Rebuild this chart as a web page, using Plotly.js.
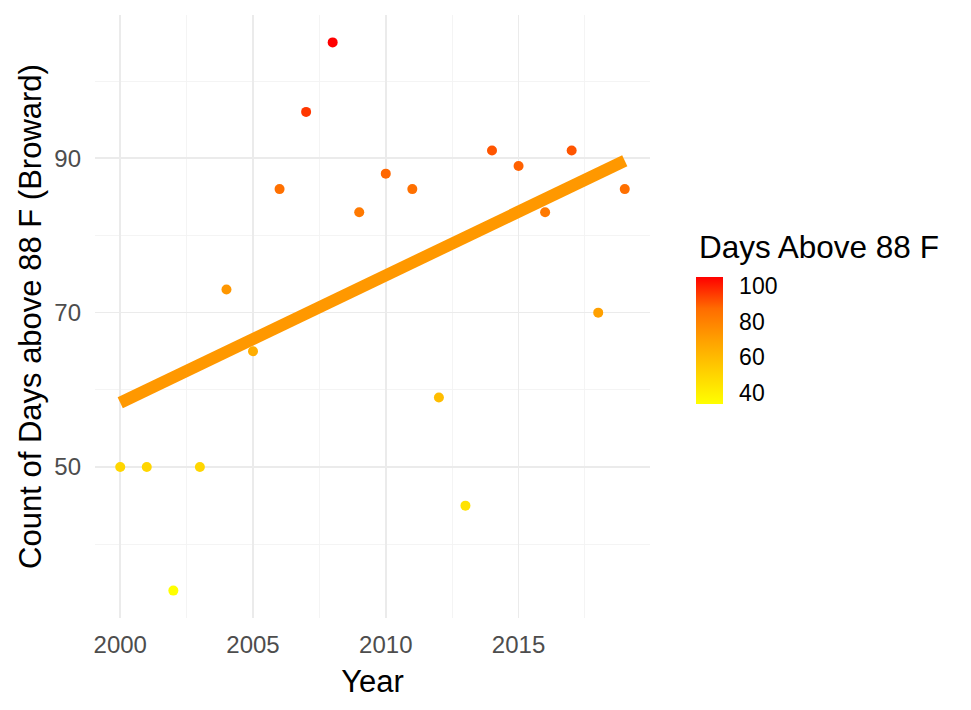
<!DOCTYPE html>
<html>
<head>
<meta charset="utf-8">
<script src="https://cdn.plot.ly/plotly-3.0.1.min.js"></script>
<style>
  html, body { margin: 0; padding: 0; background: #ffffff; }
  #chart { width: 971px; height: 710px; }
</style>
</head>
<body>
<div id="chart"></div>
<script>
// Annual count of days above 88 F, Broward County
const years = [2000, 2001, 2002, 2003, 2004, 2005, 2006, 2007, 2008, 2009,
               2010, 2011, 2012, 2013, 2014, 2015, 2016, 2017, 2018, 2019];
const daysAbove = [50, 50, 34, 50, 73, 65, 86, 96, 105, 83,
                   88, 86, 59, 45, 91, 89, 83, 91, 70, 86];
const xTickVals = [2000, 2005, 2010, 2015];
const yTickVals = [50, 70, 90];
const legendTickVals = [40, 60, 80, 100];

// Ordinary least-squares trend line through the yearly counts
function linearFit(xs, ys) {
  const n = xs.length;
  const mx = xs.reduce((a, b) => a + b, 0) / n;
  const my = ys.reduce((a, b) => a + b, 0) / n;
  let sxy = 0, sxx = 0;
  for (let i = 0; i < n; i++) {
    sxy += (xs[i] - mx) * (ys[i] - my);
    sxx += (xs[i] - mx) * (xs[i] - mx);
  }
  const slope = sxy / sxx;
  return x => my + slope * (x - mx);
}
const fit = linearFit(years, daysAbove);
const fitX = [Math.min(...years), Math.max(...years)];
const fitY = fitX.map(fit);

const cMin = Math.min(...daysAbove);
const cMax = Math.max(...daysAbove);

// yellow -> red gradient interpolated in Lab space
const heatScale = [
  [0.00, 'rgb(255,255,0)'],
  [0.25, 'rgb(255,209,0)'],
  [0.50, 'rgb(255,161,0)'],
  [0.75, 'rgb(255,108,0)'],
  [1.00, 'rgb(255,0,0)']
];

const FONT = 'Liberation Sans, Arial, sans-serif';

// plot box and colour bar geometry (pixels)
const W = 971, H = 710;
const M = { l: 95, r: 321, t: 15, b: 92 };
const plotW = W - M.l - M.r, plotH = H - M.t - M.b;
const barLeftPx = 696, barThick = 27, barLenPx = 127, barMidPx = 340.4;
const barX = (barLeftPx - M.l) / plotW;
const barY = (H - M.b - barMidPx) / plotH;

// white guide ticks drawn across both edges of the colour bar
function barValueToPaperY(v) {
  const px = barMidPx + barLenPx / 2 - (v - cMin) / (cMax - cMin) * barLenPx;
  return (H - M.b - px) / plotH;
}
const tickLen = 5;
const barTickShapes = [];
legendTickVals.forEach(v => {
  const yp = barValueToPaperY(v);
  [[barLeftPx, barLeftPx + tickLen], [barLeftPx + barThick - tickLen, barLeftPx + barThick]].forEach(([a, b]) => {
    barTickShapes.push({
      type: 'line', xref: 'paper', yref: 'paper',
      x0: (a - M.l) / plotW, x1: (b - M.l) / plotW, y0: yp, y1: yp,
      line: { color: 'rgba(255,255,255,0.85)', width: 1.2 }
    });
  });
});

const points = {
  type: 'scatter',
  mode: 'markers',
  x: years,
  y: daysAbove,
  marker: {
    size: 10,
    color: daysAbove,
    cmin: cMin,
    cmax: cMax,
    colorscale: heatScale,
    line: { width: 0 },
    showscale: true,
    colorbar: {
      x: barX,
      xanchor: 'left',
      y: barY,
      yanchor: 'middle',
      len: barLenPx,
      lenmode: 'pixels',
      thickness: barThick,
      thicknessmode: 'pixels',
      outlinewidth: 0,
      xpad: 0,
      ypad: 0,
      tickmode: 'array',
      tickvals: legendTickVals,
      ticks: 'outside',
      ticklen: 12,
      tickcolor: 'rgba(255,255,255,0)',
      tickwidth: 1,
      tickfont: { family: FONT, size: 23, color: '#000000' },
      title: { text: '' }
    }
  },
  hoverinfo: 'x+y',
  showlegend: false
};

const trend = {
  type: 'scatter',
  mode: 'lines',
  x: fitX,
  y: fitY,
  line: { color: '#FF9800', width: 12 },
  hoverinfo: 'skip',
  showlegend: false
};

const layout = {
  width: W,
  height: H,
  margin: M,
  paper_bgcolor: '#ffffff',
  plot_bgcolor: '#ffffff',
  font: { family: FONT, color: '#4D4D4D' },
  xaxis: {
    range: [1999.05, 2019.95],
    tickmode: 'array',
    tickvals: xTickVals,
    ticks: '',
    ticklabelstandoff: 10,
    showline: false,
    zeroline: false,
    showgrid: true,
    gridcolor: '#EBEBEB',
    gridwidth: 1.6,
    minor: { dtick: 2.5, tick0: 2000, showgrid: true, gridcolor: '#F3F3F3', gridwidth: 0.9 },
    tickfont: { family: FONT, size: 24, color: '#4D4D4D' },
    title: { text: 'Year', font: { family: FONT, size: 31, color: '#000000' }, standoff: 13 },
    automargin: false
  },
  yaxis: {
    range: [30.45, 108.55],
    tickmode: 'array',
    tickvals: yTickVals,
    ticks: '',
    ticklabelstandoff: 13,
    showline: false,
    zeroline: false,
    showgrid: true,
    gridcolor: '#EBEBEB',
    gridwidth: 1.6,
    minor: { dtick: 10, tick0: 40, showgrid: true, gridcolor: '#F3F3F3', gridwidth: 0.9 },
    tickfont: { family: FONT, size: 24, color: '#4D4D4D' },
    title: { text: 'Count of Days above 88 F (Broward)', font: { family: FONT, size: 31, color: '#000000' }, standoff: 3 },
    automargin: false
  },
  shapes: barTickShapes,
  annotations: [{
    text: 'Days Above 88 F',
    xref: 'paper', yref: 'paper',
    x: (697 - M.l) / plotW, xanchor: 'left',
    y: 0.615, yanchor: 'middle',
    showarrow: false,
    font: { family: FONT, size: 31.5, color: '#000000' }
  }]
};

Plotly.newPlot('chart', [points, trend], layout, { displayModeBar: false, staticPlot: true });
</script>
</body>
</html>
